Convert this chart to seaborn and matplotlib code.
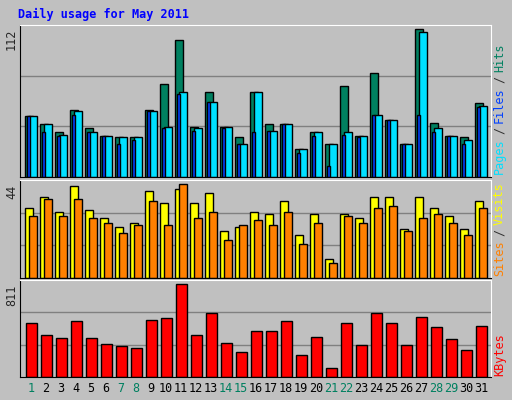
import numpy as np
import pandas as pd
import matplotlib
matplotlib.use("Agg")
import matplotlib.pyplot as plt
import seaborn as sns

# ---------------- DATA ----------------
days = list(range(1, 32))
hits = [46, 40, 34, 51, 37, 31, 30, 30, 51, 70, 104, 38, 64, 38, 30, 64,
        40, 40, 21, 34, 25, 69, 31, 79, 43, 25, 112, 41, 31, 30, 56]
files = [46, 40, 32, 50, 34, 31, 30, 30, 50, 38, 64, 37, 57, 38, 25, 64,
         35, 40, 21, 34, 25, 34, 31, 47, 43, 25, 110, 37, 31, 28, 54]
pages = [46, 34, 31, 47, 34, 31, 25, 28, 50, 37, 63, 35, 57, 37, 25, 34,
         35, 40, 18, 31, 8, 32, 30, 47, 43, 25, 47, 34, 31, 25, 53]
sites = [33, 38, 31, 43, 32, 28, 24, 26, 41, 35, 42, 35, 40, 22, 24, 31,
         30, 36, 20, 30, 9, 30, 28, 38, 38, 23, 38, 33, 29, 23, 36]
visits = [29, 37, 29, 37, 28, 26, 21, 25, 36, 25, 44, 28, 31, 18, 25, 27,
          25, 31, 16, 26, 7, 29, 26, 33, 34, 22, 28, 30, 26, 20, 33]
kbytes = [472, 365, 339, 490, 339, 285, 267, 258, 499, 517, 811, 365, 561, 294,
          223, 401, 401, 490, 196, 348, 80, 472, 276, 561, 472, 276, 526, 437,
          330, 232, 446]
weekend = [1, 7, 8, 14, 15, 21, 22, 28, 29]

df = pd.DataFrame({"day": days, "hits": hits, "files": files, "pages": pages,
                   "sites": sites, "visits": visits, "kbytes": kbytes})

BG = "#C0C0C0"
sns.set_style("white")
plt.rcParams["font.family"] = ["DejaVu Sans Mono", "DejaVu Sans"]

fig = plt.figure(figsize=(5.12, 4.0), dpi=100, facecolor=BG)
ax1 = fig.add_axes([0.039, 0.5575, 0.92, 0.38])
ax2 = fig.add_axes([0.039, 0.305, 0.92, 0.245])
ax3 = fig.add_axes([0.039, 0.0575, 0.92, 0.2425])


def bars(ax, col, offset, width, color):
    sns.barplot(x=df["day"] + offset, y=df[col], ax=ax, native_scale=True,
                width=width, color=color, edgecolor="black", linewidth=1,
                saturation=1)


bars(ax1, "hits", -0.13, 0.49, "#008060")
bars(ax1, "files", 0.13, 0.49, "#00E0FF")
bars(ax1, "pages", -0.16, 0.16, "#0040FF")
bars(ax2, "sites", -0.13, 0.49, "#FFFF00")
bars(ax2, "visits", 0.13, 0.49, "#FF8000")
bars(ax3, "kbytes", 0.03, 0.69, "#FF0000")

for ax, top, mx in [(ax1, 115, max(hits)), (ax2, 46, max(visits)),
                    (ax3, 849, max(kbytes))]:
    ax.set_facecolor(BG)
    ax.set_xlim(0.27, 31.67)
    ax.set_ylim(0, top)
    ax.set_yticks([top / 3, 2 * top / 3])
    ax.set_yticklabels([])
    ax.grid(axis="y", color="#808080", linewidth=1)
    ax.set_axisbelow(True)
    ax.set_xlabel("")
    ax.set_ylabel("")
    ax.tick_params(length=0)
    for s in ax.spines.values():
        s.set_color("black")
    ax.spines["right"].set_color("white")
    ax.spines["top"].set_color("white")
    ax.text(-0.004, mx / top, str(mx), transform=ax.transAxes, rotation=90,
            ha="right", va="top", fontsize=8.5)

ax1.set_xticks([])
ax2.set_xticks([])
ax3.set_xticks(days)
ax3.set_xticklabels([str(d) for d in days], fontsize=8.5)
for lbl, d in zip(ax3.get_xticklabels(), days):
    lbl.set_color("#008060" if d in weekend else "black")


# right side legends, stacked bottom-up in pixel units
def side(parts, y_px):
    y = y_px
    for txt, c in parts:
        fig.text(493 / 512, 1 - y / 400, txt, rotation=90, ha="left",
                 va="bottom", fontsize=8.5, color=c)
        y -= len(txt) * 7.2 + 4


side([("Pages", "#00E0FF"), ("/", "#303030"), ("Files", "#0040FF"),
      ("/", "#303030"), ("Hits", "#008060")], 174)
side([("Sites", "#FF8000"), ("/", "#303030"), ("Visits", "#FFFF00")], 276)
side([("KBytes", "#FF0000")], 376)

fig.text(0.035, 0.965, "Daily usage for May 2011", color="#0000FF",
         fontweight="bold", fontsize=8.5, va="center")

fig.savefig("out.png", dpi=100, facecolor=BG)
